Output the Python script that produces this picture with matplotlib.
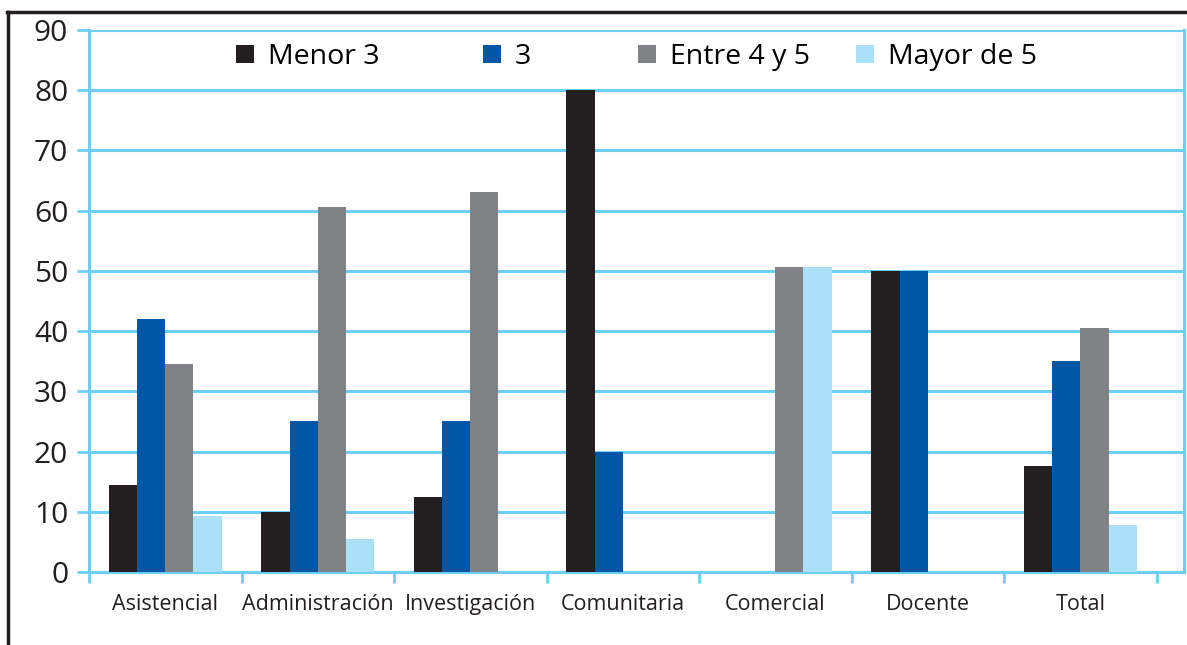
import numpy as np
import matplotlib.pyplot as plt
from matplotlib.lines import Line2D
from matplotlib.patches import Patch

plt.rcParams['font.family'] = ['Open Sans', 'DejaVu Sans']

categorias = ['Asistencial', 'Administración', 'Investigación', 'Comunitaria',
              'Comercial', 'Docente', 'Total']
series = ['Menor 3', '3', 'Entre 4 y 5', 'Mayor de 5']
menor3 = [14.5, 10, 12.5, 80, 0, 50, 17.6]
tres = [42, 25, 25, 20, 0, 50, 35]
entre4y5 = [34.6, 60.6, 63.1, 0, 50.7, 0, 40.5]
mayor5 = [9.3, 5.5, 0, 0, 50.7, 0, 7.8]
colores = ['#231f20', '#0055a5', '#808285', '#abe0f9']
grid_col = '#6dcff6'

valores = [menor3, tres, entre4y5, mayor5]

fig = plt.figure(figsize=(11.87, 6.45), dpi=100)
ax = fig.add_axes([89 / 1187, 1 - 572 / 645, 1095 / 1187, 542 / 645])

x = np.arange(len(categorias))
w = 0.185
for i, (vals, c) in enumerate(zip(valores, colores)):
    ax.bar(x + (i - 1.5) * w, vals, width=w, color=c, zorder=3)

ax.set_ylim(0, 90)
ax.set_xlim(-0.5, 6.68)
ax.set_yticks(range(0, 91, 10))
ax.tick_params(axis='y', labelsize=21.5, length=9, width=2, color=grid_col,
               labelcolor='#231f20', pad=6)
ax.yaxis.grid(True, color=grid_col, linewidth=2.2, zorder=0)

ax.set_xticks(x)
ax.set_xticklabels(categorias, fontsize=15.5, color='#231f20')
ax.set_xticks(np.arange(-0.5, 7, 1), minor=True)
ax.tick_params(axis='x', which='major', length=0, pad=16)
ax.tick_params(axis='x', which='minor', length=8, width=2, color=grid_col)

for s in ['left', 'right', 'bottom']:
    ax.spines[s].set_color(grid_col)
    ax.spines[s].set_linewidth(2.2)
ax.spines['top'].set_visible(False)

# legend entries placed separately, as in the original
leg_x = [222, 469, 624, 842]
for lab, c, lx in zip(series, colores, leg_x):
    h = Patch(facecolor=c, edgecolor='none')
    fig.legend([h], [lab], loc='center left',
               bbox_to_anchor=(lx / 1187, 1 - 57 / 645),
               frameon=False, fontsize=20.5, handlelength=0.62,
               handleheight=0.62, handletextpad=0.5, borderpad=0)

# black frame on top and left
fig.add_artist(Line2D([7 / 1187, 1], [1 - 12 / 645, 1 - 12 / 645],
                      color='#231f20', linewidth=2.5))
fig.add_artist(Line2D([8 / 1187, 8 / 1187], [0, 1 - 12 / 645],
                      color='#231f20', linewidth=2.5))

fig.savefig('out.png', dpi=100)
